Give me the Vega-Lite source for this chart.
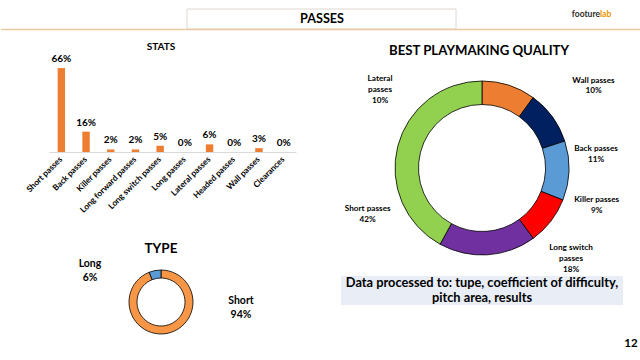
{
  "$schema": "https://vega.github.io/schema/vega-lite/v6.json",
  "padding": 0,
  "background": "white",
  "config": {
    "font": "Lato",
    "view": {"stroke": null},
    "title": {"fontWeight": "bold", "color": "black", "anchor": "middle"},
    "text": {"color": "black", "fontWeight": "bold"}
  },
  "bounds": "flush",
  "columns": 3,
  "spacing": {"row": 3, "column": 45},
  "resolve": {"scale": {"x": "independent", "y": "independent", "color": "independent", "theta": "independent"}},
  "concat": [
    {
      "width": 3,
      "height": 60,
      "data": {"values": [{"page": "PASSES"}]},
      "layer": [
        {"mark": {"type": "rect", "fill": "white", "stroke": "#D4CCC4", "strokeWidth": 0.8}, "encoding": {"x": {"value": 186}, "x2": {"value": 455}, "y": {"value": 9}, "y2": {"value": 29}}},
        {"mark": {"type": "rule", "stroke": "#EBC7A2", "strokeWidth": 1.5}, "encoding": {"x": {"value": 0}, "x2": {"value": 640}, "y": {"value": 29.5}}},
        {"mark": {"type": "text", "fontSize": 12.6, "baseline": "middle"}, "encoding": {"text": {"field": "page"}, "x": {"value": 321}, "y": {"value": 19}}},
        {"mark": {"type": "text", "text": "footure", "fontSize": 8.5, "align": "right", "baseline": "middle", "color": "#2B2B2B"}, "encoding": {"x": {"value": 599}, "y": {"value": 13.5}}},
        {"mark": {"type": "text", "text": "lab", "fontSize": 8.5, "align": "left", "baseline": "middle", "color": "#F39200"}, "encoding": {"x": {"value": 599}, "y": {"value": 13.5}}}
      ]
    },
    {"width": 247, "height": 1, "data": {"values": []}, "mark": "point"},
    {"width": 282, "height": 1, "data": {"values": []}, "mark": "point"},
    {"width": 3, "height": 1, "data": {"values": []}, "mark": "point"},
    {
      "width": 247,
      "height": 89,
      "title": {"text": "STATS", "fontSize": 10, "offset": 2, "dx": -11.5},
      "data": {"values": [
        {"pass": "Short passes", "share": 0.66},
        {"pass": "Back passes", "share": 0.16},
        {"pass": "Killer passes", "share": 0.02},
        {"pass": "Long forward passes", "share": 0.02},
        {"pass": "Long switch passes", "share": 0.05},
        {"pass": "Long passes", "share": 0.0},
        {"pass": "Lateral passes", "share": 0.06},
        {"pass": "Headed passes", "share": 0.0},
        {"pass": "Wall passes", "share": 0.03},
        {"pass": "Clearances", "share": 0.0}
      ]},
      "encoding": {
        "x": {"field": "pass", "type": "nominal", "sort": null,
          "scale": {"paddingInner": 0.7, "paddingOuter": 0.35},
          "axis": {"title": null, "labelAngle": -45, "labelAlign": "right", "labelBaseline": "middle", "labelFontSize": 8.3, "labelFontWeight": "bold", "labelColor": "black", "labelPadding": 6, "ticks": false, "domainColor": "#D9D9D9", "labelLimit": 200}},
        "y": {"field": "share", "type": "quantitative", "scale": {"domain": [0, 0.7]}, "axis": null}
      },
      "layer": [
        {"mark": {"type": "bar", "color": "#ED7D31"}},
        {"mark": {"type": "text", "dy": -9, "fontSize": 10, "baseline": "middle"}, "encoding": {"text": {"field": "share", "type": "quantitative", "format": ".0%"}}}
      ]
    },
    {
      "width": 282,
      "height": 210,
      "title": {"text": "BEST PLAYMAKING QUALITY", "fontSize": 13.2, "offset": 4.7, "dx": -3},
      "data": {"values": [
        {"pass": "Lateral passes", "share": 0.10},
        {"pass": "Wall passes", "share": 0.10},
        {"pass": "Back passes", "share": 0.11},
        {"pass": "Killer passes", "share": 0.09},
        {"pass": "Long switch passes", "share": 0.18},
        {"pass": "Short passes", "share": 0.42}
      ]},
      "transform": [
        {"window": [{"op": "row_number", "as": "i"}]},
        {"calculate": "(length(datum.pass) >= 14 ? substring(datum.pass, 0, lastindexof(datum.pass, ' ')) + '\\n' + substring(datum.pass, lastindexof(datum.pass, ' ') + 1) : datum.pass) + '\\n' + format(datum.share, '.0%')", "as": "lbl"}
      ],
      "layer": [
        {
          "mark": {"type": "arc", "outerRadius": 87, "innerRadius": 63.5, "stroke": "black", "strokeWidth": 0.8},
          "encoding": {
            "theta": {"field": "share", "type": "quantitative", "stack": true},
            "order": {"field": "i", "type": "quantitative"},
            "color": {"field": "pass", "type": "nominal", "legend": null, "scale": {
              "domain": ["Lateral passes", "Wall passes", "Back passes", "Killer passes", "Long switch passes", "Short passes"],
              "range": ["#ED7D31", "#002060", "#5B9BD5", "#FF0000", "#7030A0", "#92D050"]}}
          }
        },
        {"transform": [{"filter": "datum.pass === 'Lateral passes'"}], "mark": {"type": "text", "fontSize": 8.2, "lineHeight": 10.7, "lineBreak": "\n", "baseline": "middle", "dx": -102, "dy": -88.7}, "encoding": {"text": {"field": "lbl"}}},
        {"transform": [{"filter": "datum.pass === 'Wall passes'"}], "mark": {"type": "text", "fontSize": 8.2, "lineHeight": 10.7, "lineBreak": "\n", "baseline": "middle", "dx": 111.5, "dy": -87.3}, "encoding": {"text": {"field": "lbl"}}},
        {"transform": [{"filter": "datum.pass === 'Back passes'"}], "mark": {"type": "text", "fontSize": 8.2, "lineHeight": 10.7, "lineBreak": "\n", "baseline": "middle", "dx": 114, "dy": -18.7}, "encoding": {"text": {"field": "lbl"}}},
        {"transform": [{"filter": "datum.pass === 'Killer passes'"}], "mark": {"type": "text", "fontSize": 8.2, "lineHeight": 10.7, "lineBreak": "\n", "baseline": "middle", "dx": 114.7, "dy": 32}, "encoding": {"text": {"field": "lbl"}}},
        {"transform": [{"filter": "datum.pass === 'Long switch passes'"}], "mark": {"type": "text", "fontSize": 8.2, "lineHeight": 10.7, "lineBreak": "\n", "baseline": "middle", "dx": 89, "dy": 80.3}, "encoding": {"text": {"field": "lbl"}}},
        {"transform": [{"filter": "datum.pass === 'Short passes'"}], "mark": {"type": "text", "fontSize": 8.2, "lineHeight": 10.7, "lineBreak": "\n", "baseline": "middle", "dx": -114.3, "dy": 41.3}, "encoding": {"text": {"field": "lbl"}}}
      ]
    },
    {"width": 3, "height": 1, "data": {"values": []}, "mark": "point"},
    {
      "width": 224,
      "height": 52,
      "title": {"text": "TYPE", "fontSize": 13.5, "offset": 3.3},
      "data": {"values": [
        {"type": "Short", "share": 0.94},
        {"type": "Long", "share": 0.06}
      ]},
      "transform": [
        {"window": [{"op": "row_number", "as": "i"}]},
        {"calculate": "datum.type + '\\n' + format(datum.share, '.0%')", "as": "lbl"}
      ],
      "layer": [
        {
          "mark": {"type": "arc", "outerRadius": 32, "innerRadius": 24, "stroke": "black", "strokeWidth": 0.8},
          "encoding": {
            "theta": {"field": "share", "type": "quantitative", "stack": true},
            "order": {"field": "i", "type": "quantitative"},
            "color": {"field": "type", "type": "nominal", "legend": null, "scale": {"domain": ["Short", "Long"], "range": ["#F79646", "#5B9BD5"]}}
          }
        },
        {"transform": [{"filter": "datum.type === 'Long'"}], "mark": {"type": "text", "fontSize": 10.5, "lineHeight": 14, "lineBreak": "\n", "baseline": "middle", "dx": -71, "dy": -38}, "encoding": {"text": {"field": "lbl"}}},
        {"transform": [{"filter": "datum.type === 'Short'"}], "mark": {"type": "text", "fontSize": 10.5, "lineHeight": 14, "lineBreak": "\n", "baseline": "middle", "dx": 80, "dy": -1}, "encoding": {"text": {"field": "lbl"}}}
      ]
    },
    {
      "width": 282,
      "height": 29,
      "view": {"fill": "#E9EDF5", "stroke": null},
      "data": {"values": [{"note": "Data processed to: tupe, coefficient of difficulty,\npitch area, results", "page": "12"}]},
      "layer": [
        {"mark": {"type": "text", "fontSize": 12.8, "lineHeight": 15, "lineBreak": "\n", "baseline": "middle", "dy": -7.5}, "encoding": {"text": {"field": "note"}}},
        {"mark": {"type": "text", "fontSize": 11.5, "baseline": "middle", "align": "center"}, "encoding": {"text": {"field": "page"}, "x": {"value": 290}, "y": {"value": 68}}}
      ]
    }
  ]
}
